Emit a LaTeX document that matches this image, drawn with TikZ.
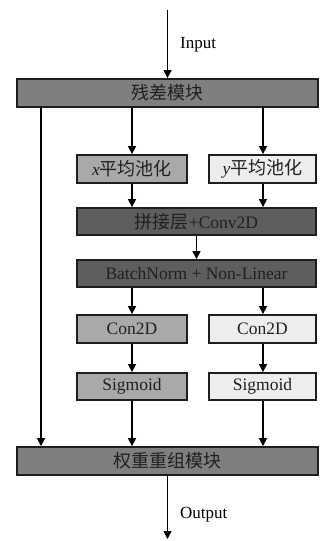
\documentclass[tikz,border=0pt]{standalone}
\usepackage{fontspec}
\setmainfont{Liberation Serif}
\newfontfamily\cjk{Noto Sans CJK SC}
\usetikzlibrary{arrows.meta}
\definecolor{midgray}{HTML}{7F7F7F}
\definecolor{darkgray}{HTML}{5E5E5E}
\definecolor{leftgray}{HTML}{A9A9A9}
\definecolor{rightgray}{HTML}{EDEDED}
\definecolor{edgecol}{HTML}{1E1E1E}
\definecolor{txtcol}{HTML}{202020}
\tikzset{
  box/.style={draw=edgecol, line width=1.8pt, rectangle, inner sep=0pt, text=txtcol,
    font=\fontsize{17.5}{20}\selectfont},
  widebox/.style={box, minimum width=301pt, minimum height=28pt, fill=midgray},
  darkbox/.style={box, minimum width=239pt, minimum height=27pt, fill=darkgray},
  lbox/.style={box, minimum width=110pt, minimum height=28pt, fill=leftgray},
  rbox/.style={box, minimum width=107pt, minimum height=28pt, fill=rightgray},
  arr/.style={-{Triangle[length=8pt,width=8pt]}, line width=1.4pt, draw=black},
  lbl/.style={font=\fontsize{17}{20}\selectfont, text=black, anchor=west, inner sep=0pt},
}
\newcommand{\zh}[1]{{\cjk\fontsize{18}{20}\selectfont #1}}
\begin{document}
\begin{tikzpicture}[x=1pt,y=-1pt]
\useasboundingbox (0,0) rectangle (322,541);
\node[widebox] (res) at (167.5,93) {\zh{残差模块}};
\node[lbox] (xpool) at (132,169) {\textit{x}\zh{平均池化}};
\node[rbox] (ypool) at (262.5,169) {\textit{y}\zh{平均池化}};
\node[darkbox] (cat) at (196.5,221.5) {\zh{拼接层}+Conv2D};
\node[darkbox] (bn) at (196.5,273.5) {BatchNorm + Non-Linear};
\node[lbox] (conl) at (132,329) {Con2D};
\node[rbox] (conr) at (262.5,329) {Con2D};
\node[lbox, minimum height=27pt] (sigl) at (132,386.5) {Sigmoid};
\node[rbox, minimum height=27pt] (sigr) at (262.5,386.5) {Sigmoid};
\node[widebox] (wt) at (167.5,461) {\zh{权重重组模块}};
\coordinate (in) at (167.5,10);
\coordinate (out) at (167.5,539);
\coordinate (xl) at (41,0);
\coordinate (xa) at (132,0);
\coordinate (xb) at (263,0);
\draw[arr] (in) -- (res.north);
\node[lbl] (inlbl) at (180,45) {Input};
\draw[arr] (res.south -| xl) -- (wt.north -| xl);
\draw[arr] (res.south -| xa) -- (xpool.north -| xa);
\draw[arr] (res.south -| xb) -- (ypool.north -| xb);
\draw[arr] (xpool.south -| xa) -- (cat.north -| xa);
\draw[arr] (ypool.south -| xb) -- (cat.north -| xb);
\draw[arr] (cat.south) -- (bn.north);
\draw[arr] (bn.south -| xa) -- (conl.north -| xa);
\draw[arr] (bn.south -| xb) -- (conr.north -| xb);
\draw[arr] (conl.south -| xa) -- (sigl.north -| xa);
\draw[arr] (conr.south -| xb) -- (sigr.north -| xb);
\draw[arr] (sigl.south -| xa) -- (wt.north -| xa);
\draw[arr] (sigr.south -| xb) -- (wt.north -| xb);
\draw[arr] (wt.south) -- (out);
\node[lbl] (outlbl) at (180,515) {Output};
\end{tikzpicture}
\end{document}
